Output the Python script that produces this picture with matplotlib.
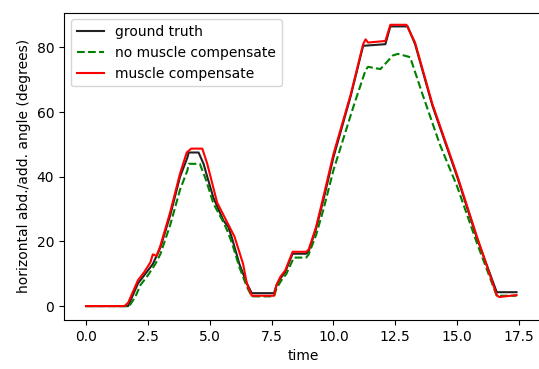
import matplotlib
matplotlib.use("Agg")
import matplotlib.pyplot as plt

# ground truth
t_gt = [0, 1.7, 1.9, 2.1, 2.4, 2.7, 3.0, 3.4, 3.8, 4.1, 4.15, 4.55, 4.75, 4.9, 5.15, 5.55, 5.75, 5.9, 6.2, 6.5, 6.7,
        7.6, 7.7, 7.85, 8.05, 8.35, 8.9, 9.0, 9.3, 9.6, 10.0, 10.7, 11.2, 12.1, 12.3, 13.0, 13.3, 14.0, 15.0, 15.8,
        16.6, 17.4]
y_gt = [0, 0, 3.5, 7, 10, 13, 18, 28, 40, 46, 47.5, 47.5, 44, 40, 33.5, 26.5, 24.5, 21, 13, 7, 4,
        4, 6.5, 8.5, 10.5, 16.2, 16.2, 17, 24, 33, 46, 65, 80.5, 81, 86.5, 86.5, 81, 62, 40, 21,
        4.3, 4.3]

# no muscle compensate
t_nm = [0, 1.75, 2.0, 2.2, 2.5, 2.8, 3.0, 3.4, 3.8, 4.1, 4.15, 4.6, 4.85, 5.15, 5.55, 5.7, 5.9, 6.2, 6.5, 6.7,
        7.6, 7.7, 7.9, 8.1, 8.4, 8.9, 9.0, 9.3, 9.6, 10.0, 10.8, 11.3, 11.4, 11.9, 12.4, 12.6, 13.1, 13.6, 14.3,
        15.0, 15.8, 16.6, 17.4]
y_nm = [0, 0, 3, 6.5, 9.5, 13, 16, 25, 36, 42, 44, 44, 39, 31.7, 26, 23.5, 19.5, 12, 6, 3,
        3, 5.5, 8, 10, 15, 15, 16, 22, 30, 42, 61.5, 73, 74, 73.3, 77.5, 78, 77, 65.5, 50,
        37, 19.5, 3.2, 3.2]

# muscle compensate
t_mc = [0, 1.55, 1.7, 1.9, 2.1, 2.35, 2.6, 2.7, 2.85, 3.0, 3.4, 3.8, 4.07, 4.25, 4.7, 4.9, 5.3, 5.7, 6.0,
        6.35, 6.5, 6.7, 7.6, 7.7, 7.85, 8.05, 8.35, 8.9, 9.0, 9.3, 9.6, 10.0, 10.7, 11.2, 11.3, 11.4, 12.1,
        12.3, 12.95, 13.3, 14.0, 15.0, 15.8, 16.6, 16.7, 17.4]
y_mc = [0, 0, 1, 4.5, 8, 10.5, 13.5, 16, 15.5, 18.5, 29, 41, 47.5, 48.7, 48.7, 44, 32, 26, 21.5,
        13, 7, 3.2, 3.2, 6.5, 9, 11, 16.8, 16.8, 17.5, 24.5, 34, 47, 65.5, 81, 82.5, 81.5, 82,
        87, 87, 81.5, 62.5, 40.5, 21.5, 3.4, 2.8, 3.4]

fig = plt.figure(figsize=(5.39, 3.69), dpi=100)
ax = fig.add_axes([64/539, 1 - 320/369, (542 - 64)/539, (320 - 12.5)/369])
ax.plot(t_gt, y_gt, color="#222222", lw=1.5, label="ground truth")
ax.plot(t_nm, y_nm, "g--", lw=1.5, label="no muscle compensate")
ax.plot(t_mc, y_mc, "r-", lw=1.5, label="muscle compensate")
ax.set_xlim(-0.89, 18.43)
ax.set_ylim(-4.3, 90.8)
ax.set_xticks([0, 2.5, 5, 7.5, 10, 12.5, 15, 17.5])
ax.set_yticks([0, 20, 40, 60, 80])
ax.set_xlabel("time")
ax.set_ylabel("horizontal abd./add. angle (degrees)")
ax.legend(loc="upper left")
fig.savefig("out.png", dpi=100)
